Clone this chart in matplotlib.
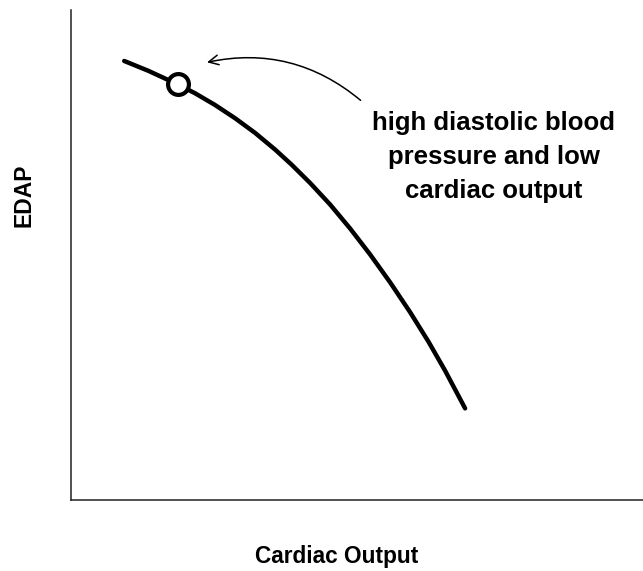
import matplotlib

matplotlib.use("Agg")
import matplotlib.pyplot as plt

# curve (arbitrary units, axes span 0..10)
cardiac_output = [0.93, 1.35, 1.87, 2.17, 2.52, 2.87, 3.22, 3.57, 3.86, 4.18,
                  4.53, 4.88, 5.23, 5.58, 5.93, 6.25, 6.54, 6.89]
edap = [8.96, 8.76, 8.48, 8.30, 8.06, 7.79, 7.49, 7.15, 6.84, 6.47,
        6.03, 5.54, 5.01, 4.44, 3.83, 3.23, 2.64, 1.87]

point_x = [1.87]
point_y = [8.48]

note = "high diastolic blood\npressure and low\ncardiac output"

plt.rcParams["font.family"] = ["Liberation Sans", "DejaVu Sans"]

fig = plt.figure(figsize=(6.43, 5.71), dpi=100)
ax = fig.add_axes([71 / 643, 1 - 500 / 571, 1 - 71 / 643, 490 / 571])
ax.set_xlim(0, 10)
ax.set_ylim(0, 10)

ax.plot(cardiac_output, edap, color="black", lw=3.2,
        solid_capstyle="round", solid_joinstyle="round", zorder=2)
ax.plot(point_x, point_y, "o", ms=15, mfc="white", mec="black", mew=3, zorder=3)

ax.annotate(
    "",
    xy=(2.33, 8.92), xycoords="data",
    xytext=(5.1, 8.12), textcoords="data",
    arrowprops=dict(arrowstyle="->,head_length=0.7,head_width=0.35",
                    connectionstyle="arc3,rad=0.25", color="black", lw=1.1),
)
ax.text(494 / 643, 1 - 157 / 571, note, transform=fig.transFigure,
        ha="center", va="center", fontsize=18.5, fontweight="bold",
        linespacing=1.52)

for side in ("top", "right"):
    ax.spines[side].set_visible(False)
for side in ("left", "bottom"):
    ax.spines[side].set_linewidth(1.1)
    ax.spines[side].set_color("#222222")
ax.set_xticks([])
ax.set_yticks([])

fig.text(337 / 643, 1 - 556 / 571, "Cardiac Output", ha="center", va="center",
         fontsize=16.3, fontweight="bold")
fig.text(24 / 643, 1 - 195 / 571, "EDAP", ha="center", va="center",
         rotation=90, fontsize=16.5, fontweight="bold")

fig.savefig("out.png", dpi=100)
